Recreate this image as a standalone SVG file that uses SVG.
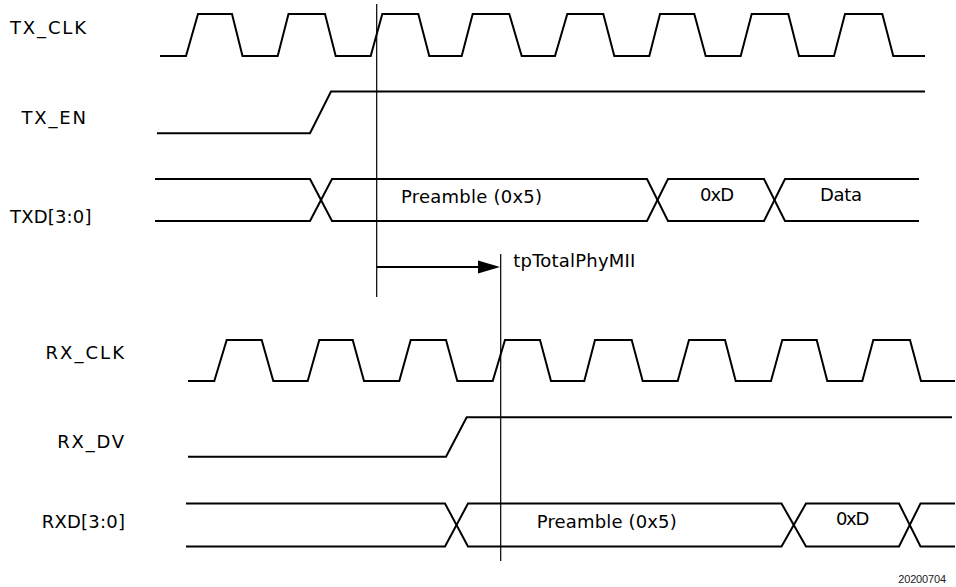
<svg xmlns="http://www.w3.org/2000/svg" width="956" height="587" viewBox="0 0 956 587">
<style>
.sig{fill:none;stroke:#000;stroke-width:2;stroke-linejoin:miter}
.mark{fill:none;stroke:#000;stroke-width:1.2}
.lbl{font-family:"DejaVu Sans","Liberation Sans",sans-serif;font-size:18px;fill:#000}
.note{font-family:"Liberation Sans",Arial,sans-serif;font-size:11px;fill:#222}
</style>
<rect width="956" height="587" fill="#fff"/>
<g id="tx_clk">
<text class="lbl" x="10" y="34" textLength="76" lengthAdjust="spacing">TX_CLK</text>
<path class="sig" d="M160,56 L186,56 L198,14 L232,14 L242.5,56 L277.7,56 L288.5,14 L325,14 L335.7,56 L370.7,56 L382.3,14 L418.3,14 L429.3,56 L461.7,56 L472.7,14 L509.3,14 L521.7,56 L555,56 L567.3,14 L603.3,14 L614.3,56 L649.3,56 L660,14 L694.3,14 L705.7,56 L740.7,56 L751.7,14 L788.3,14 L799,56 L834,56 L845,14 L882.3,14 L893.3,56 L925,56"/>
</g>
<g id="tx_en">
<text class="lbl" x="21.5" y="124" textLength="64.5" lengthAdjust="spacing">TX_EN</text>
<path class="sig" d="M157,133.3 L310,133.3 L331,91.5 L925,91.5"/>
</g>
<g id="txd">
<text class="lbl" x="10" y="222.5" textLength="81.5" lengthAdjust="spacing">TXD[3:0]</text>
<path class="sig" d="M155,179 L310,179 L332,221 L647,221 L668,179 L764,179 L785,221 L919,221"/>
<path class="sig" d="M155,221 L310,221 L332,179 L647,179 L668,221 L764,221 L785,179 L919,179"/>
<text class="lbl" x="401" y="202.5" textLength="141" lengthAdjust="spacing">Preamble (0x5)</text>
<text class="lbl" x="700" y="200.5" textLength="34" lengthAdjust="spacing">0xD</text>
<text class="lbl" x="820" y="200.5" textLength="42" lengthAdjust="spacing">Data</text>
</g>
<g id="rx_clk">
<text class="lbl" x="45.5" y="359.3" textLength="78.5" lengthAdjust="spacing">RX_CLK</text>
<path class="sig" d="M188,381 L214.3,381 L226.7,340 L261.7,340 L273.3,381 L307.7,381 L319.3,340 L352.7,340 L364,381 L399.3,381 L410.7,340 L446,340 L457.3,381 L492.7,381 L505,340 L540,340 L551,381 L584.3,381 L595,340 L631.7,340 L642.7,381 L677.7,381 L689,340 L725,340 L735.7,381 L771,381 L782.3,340 L816.7,340 L827.3,381 L862.3,381 L873.3,340 L910,340 L921,381 L955,381"/>
</g>
<g id="rx_dv">
<text class="lbl" x="57.3" y="448.3" textLength="66.7" lengthAdjust="spacing">RX_DV</text>
<path class="sig" d="M188,456.7 L446,456.7 L466.7,417.3 L952,417.3"/>
</g>
<g id="rxd">
<text class="lbl" x="41.7" y="528.3" textLength="83.3" lengthAdjust="spacing">RXD[3:0]</text>
<path class="sig" d="M186,503.5 L445,503.5 L468,546.5 L781.5,546.5 L806,503.5 L899,503.5 L920.5,546.5 L955,546.5"/>
<path class="sig" d="M186,546.5 L445,546.5 L468,503.5 L781.5,503.5 L806,546.5 L899,546.5 L920.5,503.5 L955,503.5"/>
<text class="lbl" x="536.7" y="527.5" textLength="140" lengthAdjust="spacing">Preamble (0x5)</text>
<text class="lbl" x="836" y="525" textLength="33.3" lengthAdjust="spacing">0xD</text>
</g>
<g id="connectors">
<line class="mark" x1="376.7" y1="4" x2="376.7" y2="297"/>
<line class="mark" x1="500.7" y1="254" x2="500.7" y2="561"/>
<line class="sig" x1="376.7" y1="267" x2="482" y2="267"/>
<polygon points="478,260.5 500,267 478,273.5" fill="#000"/>
<text class="lbl" x="513.3" y="267.3" textLength="122" lengthAdjust="spacing">tpTotalPhyMII</text>
</g>
<text class="note" x="898.3" y="583.3" textLength="47.7" lengthAdjust="spacing">20200704</text>
</svg>
